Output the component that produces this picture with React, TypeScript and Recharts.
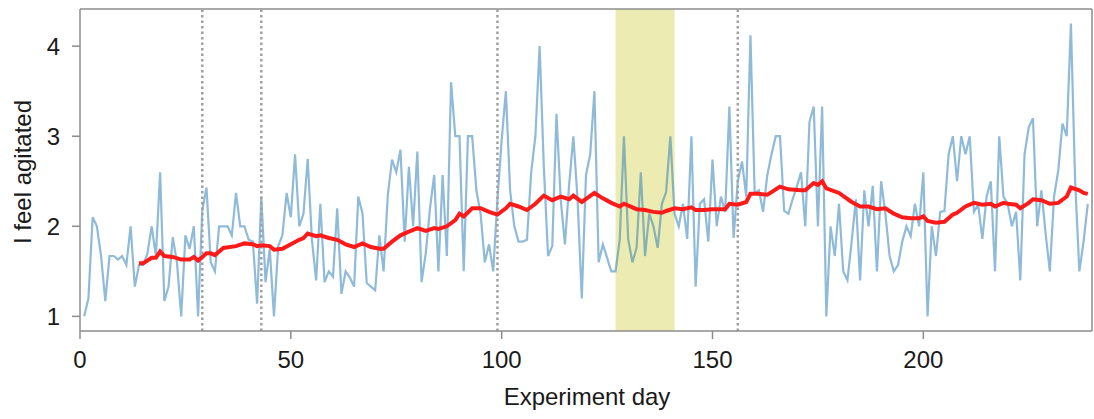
import React from "react";
import {
  LineChart,
  Line,
  XAxis,
  YAxis,
  ReferenceLine,
  ReferenceArea,
  Label,
} from "recharts";

// daily ratings, day 1..239
const ratings = [
  1.0, 1.2, 2.1, 2.0, 1.67, 1.17, 1.67, 1.67, 1.63, 1.67,
  1.57, 2.0, 1.33, 1.57, 1.57, 1.7, 2.0, 1.67, 2.6, 1.17,
  1.33, 1.88, 1.6, 1.0, 1.9, 1.75, 2.0, 1.0, 2.18, 2.43,
  1.6, 1.5, 2.0, 2.0, 2.0, 1.9, 2.37, 2.0, 2.0, 1.85,
  1.83, 1.14, 2.33, 1.38, 1.75, 1.0, 1.78, 1.9, 2.37, 2.1,
  2.8, 2.0, 2.14, 2.75, 1.85, 1.4, 2.25, 1.38, 1.5, 1.44,
  2.2, 1.25, 1.5, 1.43, 1.33, 2.33, 2.14, 1.37, 1.33, 1.29,
  1.9, 1.5, 2.35, 2.74, 2.6, 2.85, 1.83, 2.66, 2.0, 2.83,
  1.38, 1.7, 2.2, 2.57, 1.5, 2.57, 1.67, 3.6, 3.0, 3.0,
  1.5, 3.0, 3.0, 2.4, 2.14, 1.6, 1.8, 1.5, 2.3, 2.96,
  3.5, 2.4, 2.0, 1.83, 1.83, 1.85, 2.6, 3.0, 4.0, 2.66,
  1.67, 1.78, 3.25, 2.3, 1.8, 2.46, 3.0, 2.3, 1.2, 2.57,
  2.8, 3.5, 1.6, 1.8, 1.65, 1.5, 1.5, 1.85, 3.0, 1.86,
  1.6, 1.76, 2.6, 1.67, 2.14, 2.0, 1.76, 2.25, 2.38, 3.0,
  2.14, 2.0, 2.25, 1.86, 3.0, 1.33, 2.25, 2.3, 1.83, 2.74,
  2.0, 2.33, 2.16, 3.33, 1.87, 2.5, 2.72, 2.33, 4.12, 2.37,
  2.4, 2.16, 2.57, 2.8, 3.0, 3.0, 2.17, 2.14, 2.3, 2.44,
  2.6, 2.0, 3.16, 3.33, 2.0, 3.33, 1.0, 2.0, 1.67, 2.25,
  1.5, 1.4, 1.83, 2.3, 1.4, 2.4, 2.0, 2.45, 1.5, 2.5,
  2.14, 1.67, 1.5, 1.57, 1.83, 2.0, 1.89, 2.25, 2.0, 2.6,
  1.0, 2.0, 1.67, 2.16, 2.17, 2.8, 3.0, 2.5, 3.0, 2.8,
  3.0, 2.16, 2.24, 1.86, 2.33, 2.5, 1.5, 3.0, 2.33, 2.25,
  2.0, 2.16, 1.4, 2.8, 3.1, 3.2, 2.0, 2.4, 1.92, 1.5,
  2.33, 2.62, 3.14, 3.0, 4.25, 2.5, 1.5, 1.83, 2.25,
];

// smoothed trend
const trendDays = [
  14, 15, 17, 18, 19, 20, 22, 24, 26, 27, 28, 29, 30, 31, 32, 34, 37, 39, 41, 42,
  43, 45, 46, 48, 50, 52, 53, 54, 56, 57, 59, 61, 63, 65, 67, 69, 71, 72, 74, 76,
  78, 80, 82, 84, 85, 87, 89, 90, 91, 93, 95, 97, 99, 101, 102, 104, 106, 108, 110, 112,
  114, 116, 117, 119, 122, 124, 126, 128, 129, 132, 134, 136, 138, 139, 141, 143, 145, 146, 148, 150,
  153, 154, 156, 158, 159, 161, 163, 164, 166, 168, 171, 172, 174, 175, 176, 177, 180, 183, 185, 187,
  189, 191, 193, 195, 197, 199, 200, 201, 203, 205, 207, 208, 210, 212, 214, 216, 217, 219, 220, 222,
  223, 225, 226, 228, 230, 232, 234, 235, 237, 238, 239,
];
const trendValues = [
  1.59, 1.59, 1.65, 1.65, 1.72, 1.67, 1.66, 1.63, 1.63, 1.66, 1.62, 1.66, 1.7, 1.7, 1.68, 1.76, 1.78, 1.81, 1.8, 1.78,
  1.79, 1.78, 1.74, 1.75, 1.8, 1.85, 1.87, 1.92, 1.89, 1.9, 1.87, 1.85, 1.8, 1.77, 1.81, 1.77, 1.75, 1.75, 1.83, 1.9,
  1.94, 1.98, 1.95, 1.98, 1.97, 2.0, 2.07, 2.14, 2.11, 2.2, 2.2, 2.16, 2.13, 2.2, 2.25, 2.22, 2.18, 2.25, 2.34, 2.29,
  2.33, 2.3, 2.34, 2.27, 2.37, 2.31, 2.26, 2.22, 2.25, 2.19, 2.18, 2.16, 2.15, 2.17, 2.2, 2.19, 2.21, 2.18, 2.18, 2.19,
  2.19, 2.25, 2.24, 2.27, 2.36, 2.36, 2.35, 2.38, 2.44, 2.41, 2.4, 2.4, 2.48, 2.46, 2.5, 2.42, 2.37, 2.27, 2.22, 2.22,
  2.19, 2.2, 2.14, 2.1, 2.09, 2.09, 2.11, 2.06, 2.04, 2.05, 2.13, 2.15, 2.22, 2.26, 2.24, 2.25, 2.22, 2.26, 2.25, 2.24,
  2.2, 2.26, 2.3, 2.29, 2.25, 2.26, 2.33, 2.43, 2.4, 2.37, 2.36,
];

const eventDays = [29, 43, 99, 156];
const highlightSpan = [127, 141];

const xTicks = [0, 50, 100, 150, 200];
const yTicks = [1, 2, 3, 4];
const xDomain = [0, 240];
const yDomain = [0.8375, 4.4125];

const dailyData = ratings.map((v, i) => ({ day: i + 1, value: v }));
const trendData = trendDays.map((d, i) => ({ day: d, trend: trendValues[i] }));

const FONT = "'Liberation Sans', Arial, sans-serif";
const SPINE = "#8c8c8c";
const TEXT = "#1a1a1a";

const tickStyle = { fontSize: 24, fill: TEXT, fontFamily: FONT };

export default function App() {
  return (
    <div style={{ position: "absolute", left: 0, top: 0, background: "#fff" }}>
      <LineChart
        width={1094}
        height={419}
        data={dailyData}
        margin={{ top: 9, right: 2, bottom: 0, left: 0 }}
      >
        <ReferenceArea
          x1={highlightSpan[0]}
          x2={highlightSpan[1]}
          fill="#bfbf00"
          fillOpacity={0.3}
          stroke="none"
        />
        <XAxis
          dataKey="day"
          type="number"
          domain={xDomain}
          ticks={xTicks}
          allowDataOverflow
          height={88}
          tick={tickStyle}
          tickSize={8}
          tickMargin={12}
          stroke={SPINE}
          strokeWidth={1.5}
          tickLine={{ stroke: SPINE, strokeWidth: 1.5 }}
        >
          <Label
            content={() => (
              <text x={587} y={405} textAnchor="middle" fontSize={24} fill={TEXT} fontFamily={FONT}>
                Experiment day
              </text>
            )}
          />
        </XAxis>
        <YAxis
          type="number"
          domain={yDomain}
          ticks={yTicks}
          allowDataOverflow
          width={80}
          tick={tickStyle}
          tickSize={8}
          tickMargin={12}
          stroke={SPINE}
          strokeWidth={1.5}
          tickLine={{ stroke: SPINE, strokeWidth: 1.5 }}
        >
          <Label
            content={() => (
              <text
                x={31}
                y={172}
                transform="rotate(-90 31 172)"
                textAnchor="middle"
                fontSize={24}
                fill={TEXT}
                fontFamily={FONT}
              >
                I feel agitated
              </text>
            )}
          />
        </YAxis>
        <ReferenceLine y={yDomain[1]} stroke={SPINE} strokeWidth={1.5} />
        <ReferenceLine x={xDomain[1]} stroke={SPINE} strokeWidth={1.5} />
        <Line
          dataKey="value"
          stroke="#1f77b4"
          strokeOpacity={0.5}
          strokeWidth={2.2}
          dot={false}
          activeDot={false}
          isAnimationActive={false}
        />
        {eventDays.map((d) => (
          <ReferenceLine
            key={d}
            x={d}
            stroke="#a0a0a0"
            strokeWidth={2.5}
            strokeDasharray="2.5 3"
          />
        ))}
        <Line
          data={trendData}
          dataKey="trend"
          stroke="#ff1a1a"
          strokeWidth={4}
          dot={false}
          activeDot={false}
          isAnimationActive={false}
        />
      </LineChart>
    </div>
  );
}
